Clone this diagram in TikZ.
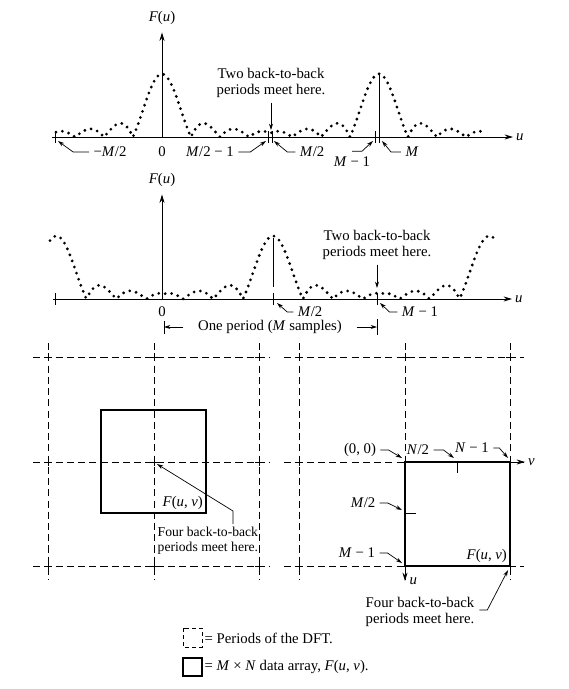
\documentclass[tikz,border=0pt]{standalone}
\usepackage{fontspec}
\setmainfont{Liberation Serif}
\usetikzlibrary{arrows.meta}

\begin{document}
\begin{tikzpicture}[x=0.025cm,y=-0.025cm,font=\fontsize{10.5}{11.5}\selectfont,
  axisline/.style={line width=0.6pt,-{Stealth[length=6pt,width=3.6pt]}},
  lead/.style={line width=0.5pt,-{Stealth[length=4.5pt,width=2.8pt]}},
  tickline/.style={line width=0.6pt},
  dotcurve/.style={line width=2.2pt,line cap=round,dash pattern=on 0pt off 4.6pt},
  perline/.style={line width=0.5pt,dash pattern=on 5pt off 3pt},
  arraybox/.style={line width=1.3pt},
  lbl/.style={inner sep=3pt},
  declare function={
    pk(\t,\c,\p)=mod(\t-\c+0.5*\p+10*\p,\p)-0.5*\p+0.05;
    sincabs(\d,\w)=abs(sin(\d/\w*180)/(\d/\w*pi));
  }]
\useasboundingbox (0,0) rectangle (568,689);

% centred spectrum
\node (Fa) at (162,18) {\textit{F}(\textit{u})};
\coordinate (oa) at (162,137);
\draw[axisline] (52,137) -- (513,137) node[right,inner sep=2pt] (ua) {\textit{u}};
\draw[axisline] (oa) -- ([yshift=-2pt]Fa.south);
\foreach \t in {55,268,272,375,379} \draw[tickline] (\t,131) -- (\t,143);
\draw[tickline] (379,137) -- (379,73);
\draw[dotcurve,domain=56:483,samples=428] plot (\x,{137-63*sincabs(pk(\x,162,217),29)});

\node[align=center] (meeta) at (271,83) {Two back-to-back\\periods meet here.};
\coordinate (ma) at (271,130);
\draw[lead] (meeta.south) -- (ma);

\node[lbl] (lmha) at (110,152) {−\textit{M}/2};
\node[lbl] (zeroa) at (162,152) {0};
\node[lbl] (lmhma) at (210,152) {\textit{M}/2 − 1};
\node[lbl] (lmhb) at (312,152) {\textit{M}/2};
\node[lbl] (lmma) at (352,162) {\textit{M} − 1};
\node[lbl] (lma) at (412,152) {\textit{M}};
\coordinate (ta1) at (58,141);
\coordinate (ta2) at (266,141);
\coordinate (ta3) at (274,141);
\coordinate (ta4) at (373,141);
\coordinate (ta5) at (382,141);
\draw[lead] (lmha.west) -- ++(-16,0) -- (ta1);
\draw[lead] (lmhma.east) -- ++(12,0) -- (ta2);
\draw[lead] (lmhb.west) -- ++(-8,0) -- (ta3);
\draw[lead] ([yshift=1pt]lmma.north) -- ++(10,0) -- (ta4);
\draw[lead] (lma.west) -- ++(-10,0) -- (ta5);

% shifted spectrum
\node (Fb) at (162,180) {\textit{F}(\textit{u})};
\coordinate (ob) at (162,299);
\draw[axisline] (53,299) -- (512,299) node[right,inner sep=2pt] (ub) {\textit{u}};
\draw[axisline] (ob) -- ([yshift=-2pt]Fb.south);
\foreach \t in {55,273,377} \draw[tickline] (\t,293) -- (\t,305);
\draw[tickline] (273,238) -- (273,287);
\draw[dotcurve,domain=50:493,samples=444] plot (\x,{299-63*sincabs(pk(\x,273,216.5),30)});

\node[align=center] (meetb) at (377,245) {Two back-to-back\\periods meet here.};
\coordinate (mb) at (377,288);
\draw[lead] (meetb.south) -- (mb);

\node[lbl] (zerob) at (162,312) {0};
\node[lbl] (lmhc) at (310,312) {\textit{M}/2};
\node[lbl] (lmmb) at (420,312) {\textit{M} − 1};
\coordinate (tb1) at (277,303);
\coordinate (tb2) at (380,303);
\draw[lead] (lmhc.west) -- ++(-6,0) -- (tb1);
\draw[lead] (lmmb.west) -- ++(-8,0) -- (tb2);

\node (per) at (270,327) {One period (\textit{M} samples)};
\coordinate (pl) at (164,327);
\coordinate (pr) at (377,327);
\draw[tickline] (164,321) -- (164,334);
\draw[tickline] (377,319) -- (377,335);
\draw[lead] ([xshift=-7pt]per.west) -- (pl);
\draw[lead] ([xshift=7pt]per.east) -- (pr);

% 2-D periods, centred
\foreach \y in {357,462,566} \draw[perline] (33,\y) -- (270,\y);
\foreach \x in {48,154,259} \draw[perline] (\x,343) -- (\x,580);
\foreach \x in {48,154,259} \foreach \y in {357,462,566}
  \draw[line width=0.5pt] (\x-4,\y) -- (\x+4,\y) (\x,\y-4) -- (\x,\y+4);
\draw[arraybox] (101,410) rectangle (206,513);
\node[anchor=south east,inner sep=2pt] (Fuva) at (206,513) {\textit{F}(\textit{u}, \textit{v})};
\node[align=left,anchor=north west,inner sep=1pt,font=\fontsize{9.7}{10.6}\selectfont] (foura) at (156,525) {Four back-to-back\\periods meet here.};
\coordinate (fa) at (157,464);
\draw[lead] (233,524) -- (233,511) -- (fa);

% 2-D periods, one array
\foreach \y in {357,462,566} \draw[perline] (284,\y) -- (524,\y);
\foreach \x in {299,405,510} \draw[perline] (\x,343) -- (\x,580);
\foreach \x in {299,405,510} \foreach \y in {357,462,566}
  \draw[line width=0.5pt] (\x-4,\y) -- (\x+4,\y) (\x,\y-4) -- (\x,\y+4);
\draw[arraybox] (405,462) rectangle (510,566);
\coordinate (oc) at (405,462);
\draw[axisline] (510,462) -- (525,462) node[right,inner sep=2pt] (vc) {\textit{v}};
\draw[axisline] (405,566) -- (405,581) node[right,inner sep=3pt] (uc) {\textit{u}};
\draw[tickline] (457,462) -- (457,473);
\draw[tickline] (405,513) -- (416,513);

\node[lbl] (l00) at (360,450) {(0, 0)};
\node[lbl] (lnh) at (418,450) {\textit{N}/2};
\node[lbl] (lnm) at (472,448) {\textit{N} − 1};
\node[lbl] (lmhd) at (363,503) {\textit{M}/2};
\node[lbl] (lmmc) at (357,553) {\textit{M} − 1};
\coordinate (tc1) at (402,458);
\coordinate (tc2) at (454,458);
\coordinate (tc3) at (508,458);
\coordinate (tc4) at (402,510);
\coordinate (tc5) at (402,563);
\draw[lead] (l00.east) -- ++(8,0) -- (tc1);
\draw[lead] (lnh.east) -- ++(10,0) -- (tc2);
\draw[lead] (lnm.east) -- ++(6,0) -- (tc3);
\draw[lead] (lmhd.east) -- ++(8,0) -- (tc4);
\draw[lead] (lmmc.east) -- ++(8,0) -- (tc5);
\node[anchor=south east,inner sep=2pt] (Fuvb) at (510,566) {\textit{F}(\textit{u}, \textit{v})};
\node[align=center] (fourb) at (420,612) {Four back-to-back\\periods meet here.};
\coordinate (fb) at (508,570);
\draw[lead] (fourb.east) ++(0,-2) -- ++(8,0) -- (fb);

% legend
\draw[line width=0.5pt,dash pattern=on 3pt off 2pt] (183,628) rectangle (202,647);
\node[anchor=west,inner sep=1pt] (legp) at (203,638) {= Periods of the DFT.};
\draw[arraybox] (183,658) rectangle (202,676);
\node[anchor=west,inner sep=1pt] (lega) at (203,667) {= \textit{M} × \textit{N} data array, \textit{F}(\textit{u}, \textit{v}).};
\end{tikzpicture}
\end{document}
